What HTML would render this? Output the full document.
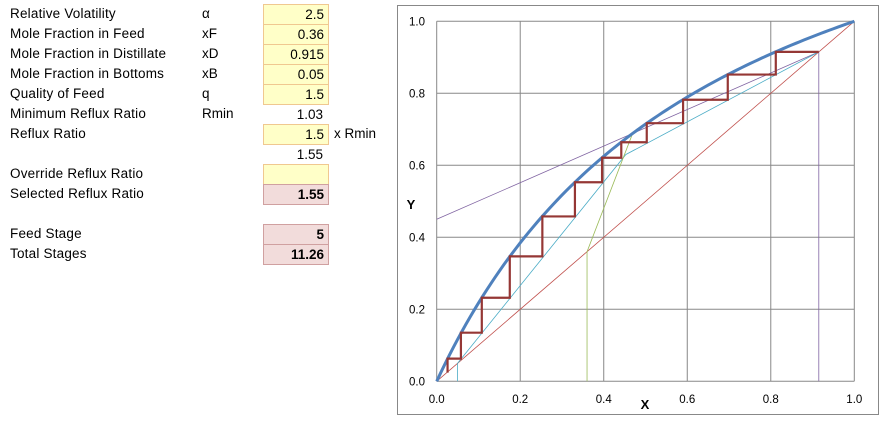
<!DOCTYPE html>
<html><head><meta charset="utf-8"><style>
body{margin:0;width:884px;height:422px;background:#fff;font-family:"Liberation Sans",sans-serif;font-size:13.5px;color:#000;position:relative;overflow:hidden}
.l{position:absolute;left:10px;letter-spacing:0.2px}
.s{position:absolute;left:202px}
.c{position:absolute;left:263px;width:60px;height:19px;padding-right:4px;text-align:right;line-height:19px;box-sizing:content-box}
.y{background:#ffffc8;border:1px solid #f0c890}
.p{background:#f2dcdb;border:1px solid #d0a0a0;font-weight:bold}
.t{line-height:20px}
</style></head><body>
<div>
<div class="l t" style="top:4px">Relative Volatility</div><div class="s t" style="top:4px">α</div><div class="c y" style="top:4px">2.5</div>
<div class="l t" style="top:24px">Mole Fraction in Feed</div><div class="s t" style="top:24px">xF</div><div class="c y" style="top:24px">0.36</div>
<div class="l t" style="top:44px">Mole Fraction in Distillate</div><div class="s t" style="top:44px">xD</div><div class="c y" style="top:44px">0.915</div>
<div class="l t" style="top:64px">Mole Fraction in Bottoms</div><div class="s t" style="top:64px">xB</div><div class="c y" style="top:64px">0.05</div>
<div class="l t" style="top:84px">Quality of Feed</div><div class="s t" style="top:84px">q</div><div class="c y" style="top:84px">1.5</div>
<div class="l t" style="top:104px">Minimum Reflux Ratio</div><div class="s t" style="top:104px">Rmin</div><div class="c" style="top:105px">1.03</div>
<div class="l t" style="top:124px">Reflux Ratio</div><div class="c y" style="top:124px">1.5</div><div class="t" style="position:absolute;left:334px;top:124px">x Rmin</div>
<div class="c" style="top:145px">1.55</div>
<div class="l t" style="top:164px">Override Reflux Ratio</div><div class="c y" style="top:164px"></div>
<div class="l t" style="top:184px">Selected Reflux Ratio</div><div class="c p" style="top:184px">1.55</div>
<div class="l t" style="top:224px">Feed Stage</div><div class="c p" style="top:224px">5</div>
<div class="l t" style="top:244px">Total Stages</div><div class="c p" style="top:244px">11.26</div>
</div>
<svg id="chart" width="884" height="422" style="position:absolute;left:0;top:0"></svg>
<script>
const alpha = 2.5;
const ticks = [0, 0.2, 0.4, 0.6, 0.8, 1.0];
const tickLabels = ["0.0","0.2","0.4","0.6","0.8","1.0"];
const stepX = [0.915,0.812,0.812,0.697,0.697,0.59,0.59,0.503,0.503,0.442,0.442,0.396,0.396,0.331,0.331,0.253,0.253,0.175,0.175,0.108,0.108,0.058,0.058,0.026,0.026];
const stepY = [0.915,0.915,0.852,0.852,0.782,0.782,0.717,0.717,0.664,0.664,0.621,0.621,0.553,0.553,0.458,0.458,0.347,0.347,0.232,0.232,0.135,0.135,0.063,0.063,0.024];
const diagX = [0,1], diagY = [0,1];
const minOpX = [0,0.915], minOpY = [0.45,0.915];
const opX = [0.05,0.453,0.915], opY = [0.05,0.63,0.915];
const bottX = [0.05,0.05], bottY = [0,0.05];
const qX = [0.36,0.36,0.468], qY = [0,0.36,0.685];
const distX = [0.915,0.915], distY = [0,0.915];
const NS="http://www.w3.org/2000/svg", svg=document.getElementById('chart');
const X0=436.7,X1=854.3,Y0=381.3,Y1=21.3;
const sx=v=>X0+(X1-X0)*v, sy=v=>Y0-(Y0-Y1)*v;
function mk(t,a){const e=document.createElementNS(NS,t);for(const k in a)e.setAttribute(k,a[k]);svg.appendChild(e);return e;}
const frame=mk('rect',{x:397.5,y:5.5,width:481,height:409,fill:'#fff',stroke:'#888'});


ticks.forEach((t,i)=>{
 const g=mk('line',{x1:X0,x2:X1,y1:sy(t),y2:sy(t),stroke:'#888','stroke-width':1});
 
 
 const v=mk('line',{x1:sx(t),x2:sx(t),y1:Y0,y2:Y1,stroke:'#888','stroke-width':1});
 
 
 const yl=mk('text',{x:425,y:sy(t)+4,'text-anchor':'end','font-size':11.5,'font-family':'Liberation Sans,sans-serif'});yl.textContent=tickLabels[i];
 
 
 const xl=mk('text',{x:sx(t),y:403,'text-anchor':'middle','font-size':11.5,'font-family':'Liberation Sans,sans-serif'});xl.textContent=tickLabels[i];
 
 
});
function poly(xs,ys,col,w,name){const p=mk('polyline',{points:xs.map((x,i)=>sx(x)+','+sy(ys[i])).join(' '),fill:'none',stroke:col,'stroke-width':w});
 
 }
poly(diagX,diagY,'#c0504d',0.8,'diagonal-line');
poly(minOpX,minOpY,'#8064a2',0.8,'min-reflux-line');
poly(opX,opY,'#4bacc6',0.8,'operating-lines');
poly(bottX,bottY,'#4bacc6',0.8,'bottoms-marker');
poly(qX,qY,'#9bbb59',0.8,'q-line');
poly(distX,distY,'#8064a2',0.8,'distillate-marker');
const ex=[],ey=[];for(let i=0;i<=100;i++){const x=i/100;ex.push(x);ey.push(alpha*x/(1+(alpha-1)*x));}
poly(ex,ey,'#4f81bd',3,'equilibrium-curve');
poly(stepX,stepY,'#953735',2.2,'stage-steps');
const xt=mk('text',{x:645,y:409,'text-anchor':'middle','font-size':13,'font-weight':'bold','font-family':'Liberation Sans,sans-serif'});xt.textContent='X';


const yt=mk('text',{x:411,y:209,'text-anchor':'middle','font-size':13,'font-weight':'bold','font-family':'Liberation Sans,sans-serif'});yt.textContent='Y';


</script>
</body></html>
